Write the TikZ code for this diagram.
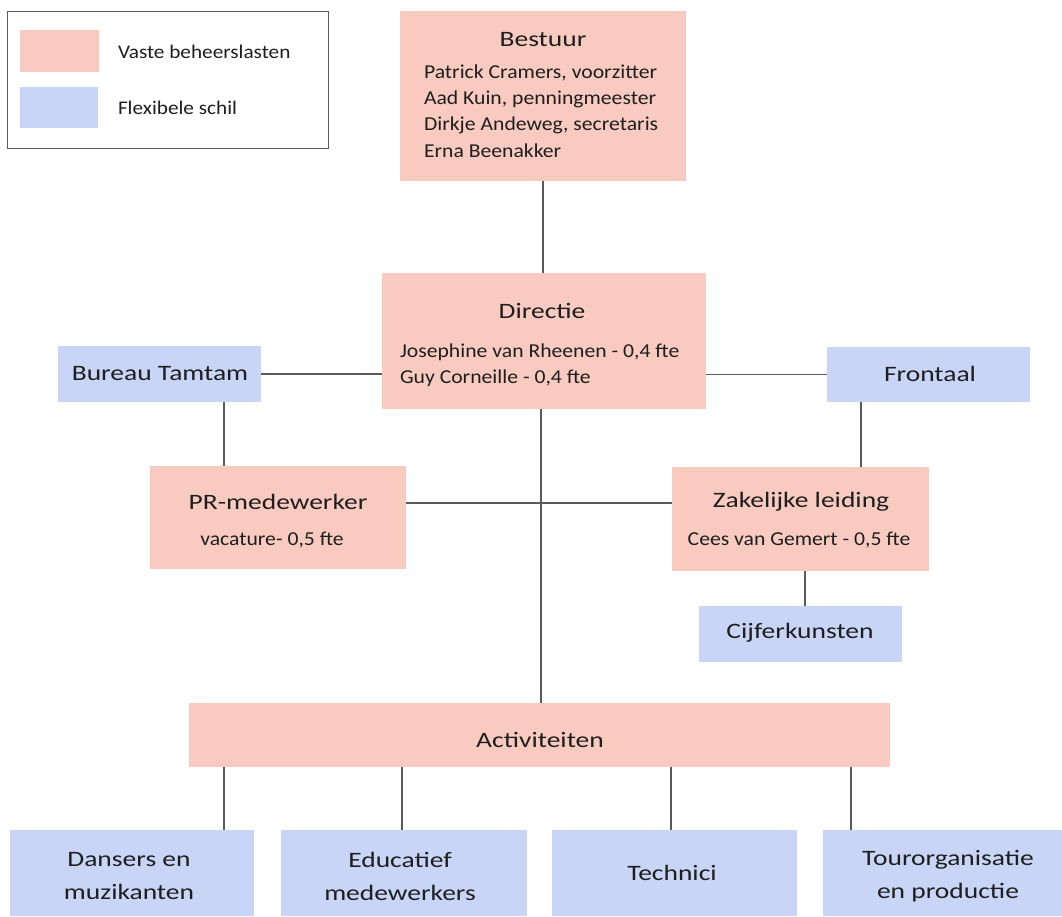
\documentclass[tikz,border=0pt]{standalone}
\usepackage{fontspec}
\setmainfont{Carlito}[FakeStretch=1.25]
\newfontfamily\bodyfam{Carlito}[FakeStretch=1.1]
\definecolor{vpink}{HTML}{F9CBC0}
\definecolor{vblue}{HTML}{C8D5F7}
\definecolor{vline}{HTML}{5A5A5A}
\definecolor{vtext}{HTML}{1E1E1E}
\begin{document}
\begin{tikzpicture}[x=1pt,y=-1pt,
  every node/.style={inner sep=0pt,outer sep=0pt,text=vtext},
  pinkbox/.style={fill=vpink,draw=none,rectangle},
  bluebox/.style={fill=vblue,draw=none,rectangle},
  conn/.style={draw=vline,line width=1.2pt},
  ttl/.style={font=\fontsize{22}{26}\selectfont},
  body/.style={font=\bodyfam\fontsize{19.7}{26}\selectfont,anchor=west},
  sub/.style={font=\bodyfam\fontsize{19.7}{22}\selectfont},
  lab/.style={font=\fontsize{22}{33}\selectfont,align=center},
  leg/.style={font=\bodyfam\fontsize{19.3}{22}\selectfont,anchor=west}]
\useasboundingbox (0,0) rectangle (1062,916);
\fill[white] (0,0) rectangle (1062,916);
% legend
\node[draw=vline,line width=0.8pt,minimum width=321pt,minimum height=137pt] (legend) at (167.5,79.5) {};
\node[pinkbox,minimum width=79pt,minimum height=42pt] (legpink) at (59.5,51) {};
\node[bluebox,minimum width=78pt,minimum height=41pt] (legblue) at (59,107.5) {};
\node[leg] (legt1) at (118,52) {Vaste beheerslasten};
\node[leg] (legt2) at (118,108) {Flexibele schil};
% boxes
\node[pinkbox,minimum width=286pt,minimum height=170pt] (bestuur) at (543,96) {};
\node[pinkbox,minimum width=324pt,minimum height=136pt] (directie) at (544,341) {};
\node[bluebox,minimum width=203pt,minimum height=56pt] (tamtam) at (159.5,374) {};
\node[bluebox,minimum width=203pt,minimum height=55pt] (frontaal) at (928.5,374.5) {};
\node[pinkbox,minimum width=256pt,minimum height=103pt] (pr) at (278,517.5) {};
\node[pinkbox,minimum width=257pt,minimum height=104pt] (zak) at (800.5,519) {};
\node[bluebox,minimum width=203pt,minimum height=56pt] (cijfer) at (800.5,634) {};
\node[pinkbox,minimum width=701pt,minimum height=64pt] (act) at (539.5,735) {};
\node[bluebox,minimum width=244pt,minimum height=86pt] (dansers) at (132,873) {};
\node[bluebox,minimum width=246pt,minimum height=86pt] (educ) at (404,873) {};
\node[bluebox,minimum width=245pt,minimum height=86pt] (tech) at (674.5,873) {};
\node[bluebox,minimum width=239pt,minimum height=86pt] (tour) at (942.5,873) {};
% texts
\node[ttl] (bestuurT) at (543,40) {Bestuur};
\node[body] (b1) at (424,73) {Patrick Cramers, voorzitter};
\node[body] (b2) at (424,99) {Aad Kuin, penningmeester};
\node[body] (b3) at (424,125) {Dirkje Andeweg, secretaris};
\node[body] (b4) at (424,151) {Erna Beenakker};
\node[ttl] (directieT) at (542,311) {Directie};
\node[body] (d1) at (400,352) {Josephine van Rheenen - 0,4 fte};
\node[body] (d2) at (400,378) {Guy Corneille - 0,4 fte};
\node[ttl] (tamtamT) at (160,374) {Bureau Tamtam};
\node[ttl] (frontaalT) at (930,374) {Frontaal};
\node[ttl] (prT) at (278,502) {PR-medewerker};
\node[sub] (prS) at (272,540) {vacature- 0,5 fte};
\node[ttl] (zakT) at (801,502) {Zakelijke leiding};
\node[sub] (zakS) at (799,540) {Cees van Gemert - 0,5 fte};
\node[ttl] (cijferT) at (800,633) {Cijferkunsten};
\node[ttl] (actT) at (540,740) {Activiteiten};
\node[lab] (dansersT) at (129,876) {Dansers en\\muzikanten};
\node[lab] (educT) at (400,876) {Educatief\\medewerkers};
\node[ttl] (techT) at (672,873) {Technici};
\node[lab] (tourT) at (948,876) {Tourorganisatie\\en productie};
% connectors
\draw[conn] (bestuur.south) -- (bestuur.south |- directie.north);
\draw[conn] (tamtam.east) -- (tamtam.east -| directie.west);
\draw[conn] (directie.east |- frontaal.west) -- (frontaal.west);
\draw[conn] ([xshift=64.5pt]tamtam.south) -- ([xshift=64.5pt]tamtam.south |- pr.north);
\draw[conn] ([xshift=-67.5pt]frontaal.south) -- ([xshift=-67.5pt]frontaal.south |- zak.north);
\draw[conn] ([yshift=14.5pt]pr.east) -- ([yshift=14.5pt]pr.east -| zak.west);
\draw[conn] ([xshift=-3pt]directie.south) -- ([xshift=-3pt]directie.south |- act.north);
\draw[conn] ([xshift=4.5pt]zak.south) -- ([xshift=4.5pt]zak.south |- cijfer.north);
\draw[conn] ([xshift=-315.5pt]act.south) -- ([xshift=-315.5pt]act.south |- dansers.north);
\draw[conn] ([xshift=-137.5pt]act.south) -- ([xshift=-137.5pt]act.south |- educ.north);
\draw[conn] ([xshift=131.5pt]act.south) -- ([xshift=131.5pt]act.south |- tech.north);
\draw[conn] ([xshift=311.5pt]act.south) -- ([xshift=311.5pt]act.south |- tour.north);
\end{tikzpicture}
\end{document}
